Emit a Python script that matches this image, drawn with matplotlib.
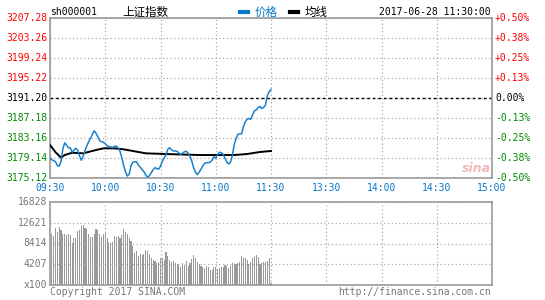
import matplotlib
matplotlib.use("Agg")
import matplotlib.pyplot as plt
from matplotlib.transforms import blended_transform_factory
from matplotlib.lines import Line2D
import numpy as np

plt.rcParams['font.family'] = ['DejaVu Sans Mono', 'Noto Sans CJK SC']

# ---------------- data ----------------
symbol = "sh000001"
name = "上证指数"
timestamp = "2017-06-28 11:30:00"
prev_close = 3191.20

price_ticks = [3207.28, 3203.26, 3199.24, 3195.22, 3191.20, 3187.18, 3183.16, 3179.14, 3175.12]
pct_labels = ["+0.50%", "+0.38%", "+0.25%", "+0.13%", "0.00%", "-0.13%", "-0.25%", "-0.38%", "-0.50%"]
time_labels = ["09:30", "10:00", "10:30", "11:00", "11:30", "13:30", "14:00", "14:30", "15:00"]
time_minutes = [0, 30, 60, 90, 120, 150, 180, 210, 240]
vol_ticks = [0, 4207, 8414, 12621, 16828]
vol_labels = ["x100", "4207", "8414", "12621", "16828"]

# minute-by-minute price, 09:30 .. 11:30
price = [3179.2, 3178.8, 3178.6, 3178.4, 3177.6, 3177.5, 3178.5, 3181.0, 3182.2, 3181.7,
         3181.2, 3181.2, 3180.3, 3180.7, 3181.1, 3180.7, 3179.6, 3178.7, 3179.5, 3180.6,
         3181.6, 3182.4, 3183.1, 3183.9, 3184.6, 3184.1, 3183.4, 3182.6, 3182.4, 3182.3,
         3182.0, 3181.6, 3181.4, 3181.4, 3181.2, 3181.5, 3181.5, 3181.2, 3180.5, 3179.2,
         3177.6, 3176.4, 3175.5, 3175.9, 3177.6, 3178.3, 3178.4, 3178.4, 3177.7, 3177.3,
         3176.8, 3176.4, 3175.7, 3175.3, 3175.6, 3176.2, 3176.8, 3177.2, 3177.0, 3176.9,
         3177.5, 3178.5, 3179.2, 3179.8, 3180.9, 3181.2, 3180.8, 3180.55, 3180.55, 3180.5,
         3180.1, 3179.9, 3180.1, 3180.4, 3180.5, 3180.1, 3179.5, 3178.5, 3177.2, 3176.3,
         3175.8, 3176.3, 3176.9, 3177.6, 3178.1, 3178.2, 3178.2, 3178.3, 3178.7, 3179.4,
         3179.1, 3179.8, 3180.3, 3180.2, 3179.9, 3179.1, 3178.3, 3177.95, 3178.3, 3179.6,
         3181.8, 3183.0, 3183.9, 3184.0, 3184.0, 3185.4, 3186.4, 3186.9, 3187.1, 3186.9,
         3187.8, 3188.6, 3188.8, 3189.3, 3189.5, 3189.1, 3189.3, 3189.8, 3191.6, 3192.5,
         3192.9]

# average-price line readings (minute, value)
avg_minutes = [0, 3, 6, 8, 12, 18, 25, 29, 35, 40, 45, 52, 63, 81, 100, 107, 114, 120]
avg_values = [3181.75, 3180.3, 3179.2, 3179.74, 3180.2, 3180.08, 3180.75, 3181.08, 3181.08,
              3180.88, 3180.55, 3180.08, 3179.94, 3179.74, 3179.74, 3179.94, 3180.35, 3180.55]

# volume (x100) per minute, minutes 1..120
volume = [10300, 9900, 11580, 10770, 11720, 11110, 10300, 10300, 10100, 10300,
          10100, 8550, 9560, 9430, 10980, 11180, 11990, 12120, 11580, 11450,
          10300, 9700, 9700, 10300, 11310, 11180, 10300, 9700, 10440, 10500,
          9430, 8750, 8550, 8750, 9900, 9760, 9900, 9560, 10100, 11450,
          10770, 10440, 9630, 8890, 7950, 6400, 6870, 5860, 6200, 6060,
          6200, 7070, 6870, 6200, 5520, 5050, 4850, 4510, 4710, 5390,
          5520, 5050, 6600, 5860, 5050, 4710, 4850, 4380, 4240, 4040,
          3700, 4380, 4040, 4850, 3840, 4380, 5250, 6060, 5390, 4710,
          4240, 3910, 3700, 3500, 3840, 3700, 3030, 3030, 3570, 3700,
          3230, 3500, 3700, 3570, 4040, 3840, 3500, 3840, 4380, 4240,
          4240, 4380, 4710, 5860, 5390, 5520, 5050, 4240, 4710, 5520,
          5860, 6060, 5720, 4240, 4380, 4580, 4710, 4920, 5520, 340]

# ---------------- style ----------------
W, H = 545, 300
RED = "#ff0000"
GREEN = "#008800"
BLUE = "#0a78c8"
LINEBLUE = "#1a80cc"
GRID = "#aaaaaa"
FRAME = "#999999"
GRAYTXT = "#777777"
FS = 7

fig = plt.figure(figsize=(W / 100, H / 100), dpi=100)
fig.patch.set_facecolor("white")

def px_rect(x0, y0, x1, y1):
    return [x0 / W, 1 - y1 / H, (x1 - x0) / W, (y1 - y0) / H]

ax = fig.add_axes(px_rect(50, 18, 492, 178))
axv = fig.add_axes(px_rect(50, 202, 492, 285))

for a in (ax, axv):
    for s in a.spines.values():
        s.set_color(FRAME)
        s.set_linewidth(1.2)
    a.set_xlim(0, 240)
    a.tick_params(length=0, labelleft=False, labelbottom=False)
    a.set_xticks(time_minutes)
    a.grid(True, color=GRID, linestyle=(0, (1, 2)), linewidth=0.9)

# price panel
ax.set_ylim(price_ticks[-1], price_ticks[0])
ax.set_yticks(price_ticks)
ax.plot(np.arange(len(price)), price, color=LINEBLUE, linewidth=1.1, zorder=4)
ax.plot(avg_minutes, avg_values, color="black", linewidth=1.4, zorder=3)
ax.axhline(prev_close, color="black", linestyle=(0, (2, 2)), linewidth=1.0, zorder=2)

trL = blended_transform_factory(fig.transFigure, ax.transData)
for v, p in zip(price_ticks, pct_labels):
    if v > prev_close + 1e-6:
        c = RED
    elif v < prev_close - 1e-6:
        c = GREEN
    else:
        c = "black"
    ax.text(47 / W, v, f"{v:.2f}", transform=trL, ha="right", va="center",
            fontsize=FS, color=c, clip_on=False)
    ax.text(495 / W, v, p, transform=trL, ha="left", va="center",
            fontsize=FS, color=c, clip_on=False)

trX = blended_transform_factory(ax.transData, fig.transFigure)
for m, lab in zip(time_minutes, time_labels):
    ax.text(m, 1 - 188 / H, lab, transform=trX, ha="center", va="center",
            fontsize=FS, color=BLUE, clip_on=False)

# watermark
fig.text(476 / W, 1 - 168 / H, "sina", fontsize=9, color="#f2b8b8",
         ha="center", va="center", style="italic", family="DejaVu Sans", weight="bold")

# volume panel
axv.set_ylim(0, vol_ticks[-1])
axv.set_yticks(vol_ticks)
axv.bar(np.arange(1, len(volume) + 1), volume, width=0.6, color="#999999",
        linewidth=0, zorder=2, antialiased=False)
axv.set_axisbelow(False)
trV = blended_transform_factory(fig.transFigure, axv.transData)
for v, lab in zip(vol_ticks, vol_labels):
    axv.text(47 / W, v, lab, transform=trV, ha="right", va="center",
             fontsize=FS, color=GRAYTXT, clip_on=False)

# header row
ty = 1 - 12 / H
fig.text(50 / W, ty, symbol, fontsize=FS, color="black", ha="left", va="center")
fig.text(122 / W, ty, name, fontsize=8.3, color="black", ha="left", va="center",
         family=["Noto Sans CJK SC", "DejaVu Sans"])
fig.add_artist(Line2D([240 / W, 248 / W], [ty, ty], color=BLUE, linewidth=3,
                      transform=fig.transFigure))
fig.text(255 / W, ty, "价格", fontsize=8.3, color=BLUE, ha="left", va="center",
         family=["Noto Sans CJK SC", "DejaVu Sans"])
fig.add_artist(Line2D([290 / W, 298 / W], [ty, ty], color="black", linewidth=3,
                      transform=fig.transFigure))
fig.text(305 / W, ty, "均线", fontsize=8.3, color="black", ha="left", va="center",
         family=["Noto Sans CJK SC", "DejaVu Sans"])
fig.text(491 / W, ty, timestamp, fontsize=FS, color="black", ha="right", va="center")

# footer
fy = 1 - 292 / H
fig.text(50 / W, fy, "Copyright 2017 SINA.COM", fontsize=FS, color=GRAYTXT,
         ha="left", va="center")
fig.text(491 / W, fy, "http://finance.sina.com.cn", fontsize=FS, color=GRAYTXT,
         ha="right", va="center")

fig.savefig("out.png", dpi=100, facecolor="white")
